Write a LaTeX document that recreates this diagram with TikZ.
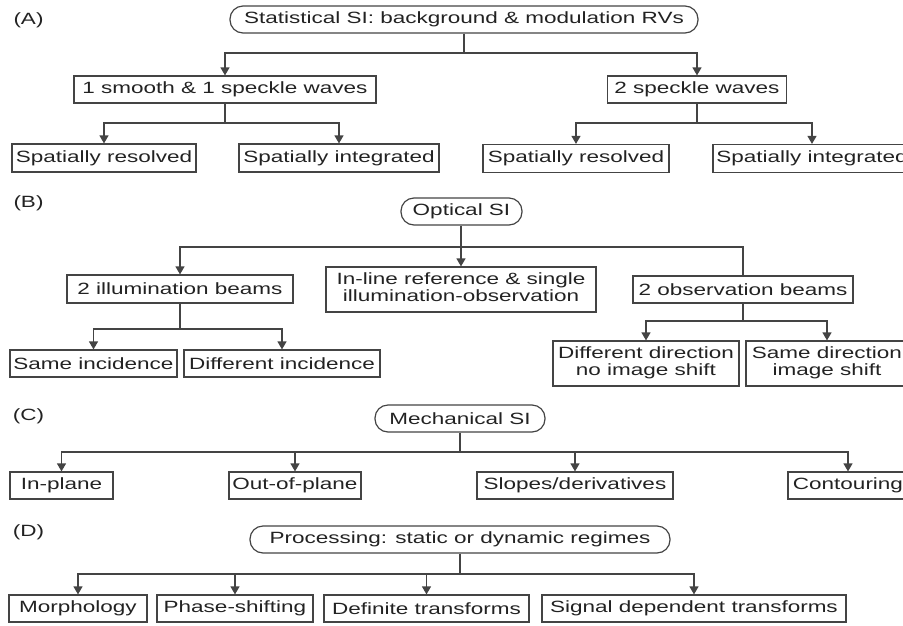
\documentclass[tikz,border=0pt]{standalone}
\usepackage{fontspec}
\setmainfont{Liberation Sans}
\usetikzlibrary{arrows.meta}
\newcommand{\sx}[1]{\scalebox{1.38}[1]{#1}}
\newcommand{\sxx}[2]{\scalebox{1.38}[1]{\begin{tabular}{@{}c@{}}#1\\#2\end{tabular}}}
\definecolor{linec}{HTML}{444444}
\definecolor{txtc}{HTML}{222222}
\begin{document}
\begin{tikzpicture}[x=1pt,y=-1pt,
  box/.style={draw=linec, line width=1.2pt, inner sep=0pt, text=txtc,
    font=\fontsize{16.3}{16.8}\selectfont, align=center},
  pill/.style={box, rounded corners=13pt},
  lbl/.style={text=txtc, inner sep=0pt, font=\fontsize{16.3}{16.8}\selectfont},
  ln/.style={draw=linec, line width=1.2pt},
  arr/.style={ln, -{Triangle[width=9pt,length=8pt]}}]
\path[use as bounding box] (0,0) rectangle (903,625);
\clip (0,0) rectangle (903,625);
% ---------- (A)
\node[lbl] (labA) at (28.5,20) {\sx{(A)}};
\node[pill, minimum width=468pt, minimum height=27pt] (rA) at (464,19.5) {\sx{Statistical SI: background \& modulation RVs}};
\node[box, minimum width=302pt, minimum height=27pt] (a1) at (225,89.5) {\sx{1 smooth \& 1 speckle waves}};
\node[box, minimum width=179pt, minimum height=27pt] (a2) at (697,89.5) {\sx{2 speckle waves}};
\node[box, minimum width=184pt, minimum height=28pt] (a11) at (104,158) {\sx{Spatially resolved}};
\node[box, minimum width=200pt, minimum height=28pt] (a12) at (339,158) {\sx{Spatially integrated}};
\node[box, minimum width=186pt, minimum height=28pt] (a21) at (576,158.5) {\sx{Spatially resolved}};
\node[box, minimum width=198pt, minimum height=28pt] (a22) at (812,158.5) {\sx{Spatially integrated}};
\coordinate (jA) at (0,53);
\coordinate (jA1) at (0,123);
\draw[ln] (rA.south) -- (rA.south |- jA);
\draw[arr] (rA.south |- jA) -| (a1.north);
\draw[arr] (rA.south |- jA) -| (a2.north);
\draw[ln] (a1.south) -- (a1.south |- jA1);
\draw[arr] (a1.south |- jA1) -| (a11.north);
\draw[arr] (a1.south |- jA1) -| (a12.north);
\draw[ln] (a2.south) -- (a2.south |- jA1);
\draw[arr] (a2.south |- jA1) -| (a21.north);
\draw[arr] (a2.south |- jA1) -| (a22.north);
% ---------- (B)
\node[lbl] (labB) at (28.5,203.5) {\sx{(B)}};
\node[pill, minimum width=121pt, minimum height=27pt] (rB) at (461.5,211.5) {\sx{Optical SI}};
\node[box, minimum width=226pt, minimum height=28pt] (b1) at (180,289) {\sx{2 illumination beams}};
\node[box, minimum width=270pt, minimum height=45pt] (b2) at (461,289.5) {\sxx{In-line reference \& single}{illumination-observation}};
\node[box, minimum width=220pt, minimum height=27pt] (b3) at (743,289.5) {\sx{2 observation beams}};
\node[box, minimum width=167pt, minimum height=27pt] (b11) at (93.5,363.5) {\sx{Same incidence}};
\node[box, minimum width=196pt, minimum height=27pt] (b12) at (282,363.5) {\sx{Different incidence}};
\node[box, minimum width=186pt, minimum height=45pt] (b31) at (646,363.5) {\sxx{Different direction}{no image shift}};
\node[box, minimum width=162pt, minimum height=45pt] (b32) at (827,363.5) {\sxx{Same direction}{image shift}};
\coordinate (jB) at (0,247);
\coordinate (jB1) at (0,329);
\coordinate (jB3) at (0,321);
\draw[arr] (b2.north |- rB.south) -- (b2.north);
\draw[arr] (b2.north |- jB) -| (b1.north);
\draw[ln] (b2.north |- jB) -| (b3.north);
\draw[ln] (b1.south) -- (b1.south |- jB1);
\draw[arr] (b1.south |- jB1) -| (b11.north);
\draw[arr] (b1.south |- jB1) -| (b12.north);
\draw[ln] (b3.south) -- (b3.south |- jB3);
\draw[arr] (b3.south |- jB3) -| (b31.north);
\draw[arr] (b3.south |- jB3) -| (b32.north);
% ---------- (C)
\node[lbl] (labC) at (28.5,416) {\sx{(C)}};
\node[pill, minimum width=170pt, minimum height=27pt] (rC) at (460,418.5) {\sx{Mechanical SI}};
\node[box, minimum width=103pt, minimum height=27pt] (c1) at (61.5,485.5) {\sx{In-plane}};
\node[box, minimum width=132pt, minimum height=27pt] (c2) at (295,485.5) {\sx{Out-of-plane}};
\node[box, minimum width=196pt, minimum height=27pt] (c3) at (575,485.5) {\sx{Slopes/derivatives}};
\node[box, minimum width=120pt, minimum height=27pt] (c4) at (848,485.5) {\sx{Contouring}};
\coordinate (jC) at (0,452);
\draw[ln] (rC.south) -- (rC.south |- jC);
\draw[arr] (rC.south |- jC) -| (c1.north);
\draw[arr] (rC.south |- jC) -| (c2.north);
\draw[arr] (rC.south |- jC) -| (c3.north);
\draw[arr] (rC.south |- jC) -| (c4.north);
% ---------- (D)
\node[lbl] (labD) at (28.5,532) {\sx{(D)}};
\node[pill, minimum width=420pt, minimum height=27pt] (rD) at (460,539.5) {\sx{Processing: static or dynamic regimes}};
\node[box, minimum width=138pt, minimum height=27pt] (d1) at (78,608.5) {\sx{Morphology}};
\node[box, minimum width=156pt, minimum height=27pt] (d2) at (235,608.5) {\sx{Phase-shifting}};
\node[box, minimum width=205pt, minimum height=27pt] (d3) at (426.5,608.5) {\sx{Definite transforms}};
\node[box, minimum width=304pt, minimum height=27pt] (d4) at (694,608.5) {\sx{Signal dependent transforms}};
\coordinate (jD) at (0,574);
\draw[ln] (rD.south) -- (rD.south |- jD);
\draw[arr] (rD.south |- jD) -| (d1.north);
\draw[arr] (rD.south |- jD) -| (d2.north);
\draw[arr] (rD.south |- jD) -| (d3.north);
\draw[arr] (rD.south |- jD) -| (d4.north);
\end{tikzpicture}
\end{document}
